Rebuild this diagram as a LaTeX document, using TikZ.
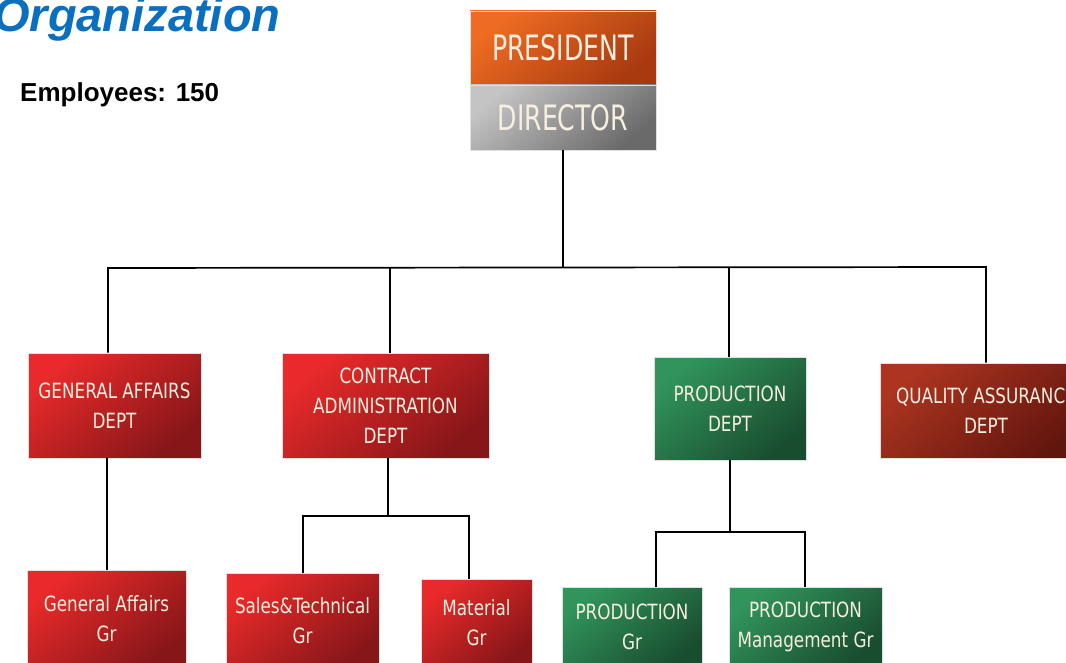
\documentclass[tikz,border=0pt]{standalone}
\usepackage{fontspec}
\setmainfont{Liberation Sans}
\newfontfamily\boxfont[FakeStretch=0.8]{DejaVu Sans}
\newfontfamily\topfont[FakeStretch=0.72]{DejaVu Sans}
\definecolor{orgblue}{HTML}{0A6FBE}
\definecolor{txtc}{HTML}{F6EEDF}
\definecolor{redA}{HTML}{EA2A2A}
\definecolor{redB}{HTML}{861618}
\definecolor{grnA}{HTML}{31945B}
\definecolor{grnB}{HTML}{194D30}
\definecolor{brnA}{HTML}{AC3420}
\definecolor{brnB}{HTML}{60150D}
\definecolor{orgA}{HTML}{EE6C22}
\definecolor{orgB}{HTML}{A83A10}
\definecolor{gryA}{HTML}{C4C4C4}
\definecolor{gryB}{HTML}{6A6A6A}
\tikzset{
  box/.style={rectangle, draw=black!12, line width=0.8pt, align=center, text=txtc,
    inner sep=0pt, font=\boxfont\fontsize{21}{30}\selectfont},
  shadeit/.style 2 args={top color=#1, bottom color=#2, shading angle=40},
  redbox/.style={box, shadeit={redA}{redB}},
  grnbox/.style={box, shadeit={grnA}{grnB}},
  brnbox/.style={box, shadeit={brnA}{brnB}},
  topbox/.style={box, minimum width=186pt, font=\topfont\fontsize{35}{40}\selectfont},
  conn/.style={draw=black, line width=1.7pt},
}
\begin{document}
\begin{tikzpicture}[x=1pt,y=-1pt]
\useasboundingbox (0,0) rectangle (1066,663);
\clip (0,0) rectangle (1066,663);
% title
\node[anchor=base west, inner sep=0pt, text=orgblue, font=\fontsize{47}{50}\selectfont\bfseries\itshape] (title) at (-7,32) {Organization};
\node[anchor=base west, inner sep=0pt, font=\fontsize{26}{30}\selectfont\bfseries] (emp) at (20,102) {Employees: 150};
% top boxes
\node[topbox, minimum height=74pt, shadeit={orgA}{orgB}, text depth=-4pt] (pres) at (563,48) {PRESIDENT};
\node[topbox, minimum height=65pt, shadeit={gryA}{gryB}, text depth=-6pt] (dir) at (563,117.5) {DIRECTOR};
% departments
\node[redbox, minimum width=173pt, minimum height=105pt] (ga) at (114.5,405.5) {GENERAL AFFAIRS\\DEPT};
\node[redbox, minimum width=207pt, minimum height=105pt] (ca) at (385.5,405.5) {CONTRACT\\ADMINISTRATION\\DEPT};
\node[grnbox, minimum width=152pt, minimum height=103pt] (pd) at (730,408.5) {PRODUCTION\\DEPT};
\node[brnbox, minimum width=212pt, minimum height=95pt] (qa) at (986,410.5) {QUALITY ASSURANCE\\DEPT};
% groups
\node[redbox, minimum width=159pt, minimum height=98pt] (gag) at (106.5,619) {General Affairs\\Gr};
\node[redbox, minimum width=153pt, minimum height=96pt] (stg) at (302.5,621) {Sales\&Technical\\Gr};
\node[redbox, minimum width=111pt, minimum height=88pt] (mg) at (476.5,623) {Material\\Gr};
\node[grnbox, minimum width=140pt, minimum height=80pt] (pg) at (632,627) {PRODUCTION\\Gr};
\node[grnbox, minimum width=153pt, minimum height=80pt] (pmg) at (805.5,627) {PRODUCTION\\Management Gr};
% bus coordinates
\coordinate (busL) at (108,268);
\coordinate (busR) at (986,267);
\coordinate (caj) at (388,516);
\coordinate (caL) at (303,516);
\coordinate (caR) at (469,516);
\coordinate (pdj) at (730,532);
\coordinate (pdL) at (656,532);
\coordinate (pdR) at (805,532);
% connectors
\draw[conn] (dir.south) -- (dir.south |- busR);
\draw[conn] (ga.north -| busL) -- (busL) -- (busR) -- (qa.north -| busR);
\draw[conn] ([xshift=4.5pt]ca.north) -- ([xshift=4.5pt]ca.north |- busR);
\draw[conn] ([xshift=-1pt]pd.north) -- ([xshift=-1pt]pd.north |- busR);
\draw[conn] ([xshift=-7.5pt]ga.south) -- ([xshift=-7.5pt]ga.south |- gag.north);
\draw[conn] ([xshift=2.5pt]ca.south) -- (caj);
\draw[conn] (stg.north -| caL) -- (caL) -- (caR) -- (mg.north -| caR);
\draw[conn] (pd.south) -- (pdj);
\draw[conn] (pg.north -| pdL) -- (pdL) -- (pdR) -- (pmg.north -| pdR);
\end{tikzpicture}
\end{document}
